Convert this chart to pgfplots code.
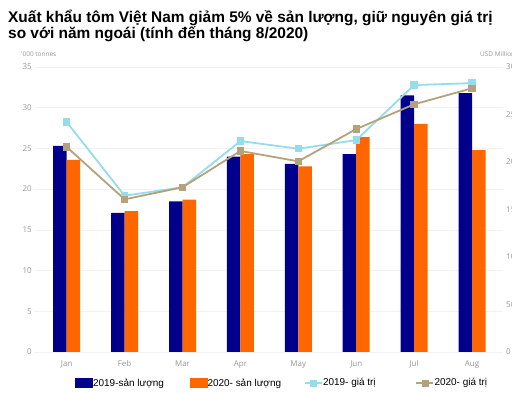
\documentclass[border=0pt]{standalone}
\usepackage{pgfplots}
\pgfplotsset{compat=1.18}
\usepackage{fontspec}
\setmainfont{Liberation Sans}
\newfontfamily\tickfont{Open Sans}
\definecolor{navyc}{RGB}{0,0,139}
\definecolor{orangec}{RGB}{255,102,0}
\definecolor{lightc}{RGB}{150,220,235}
\definecolor{tanc}{RGB}{180,162,125}
\definecolor{tickgray}{RGB}{150,150,150}
\begin{document}
\begin{tikzpicture}
\useasboundingbox (0,0) rectangle (512bp,393bp);
\node[anchor=base west, inner sep=0pt, font=\bfseries\fontsize{15.5}{16}\selectfont] at (8bp,370.5bp)
 {Xuất khẩu tôm Việt Nam giảm 5\% về sản lượng, giữ nguyên giá trị};
\node[anchor=base west, inner sep=0pt, font=\bfseries\fontsize{15.5}{16}\selectfont] at (8bp,354.5bp)
 {so với năm ngoái (tính đến tháng 8/2020)};
\node[anchor=base west, inner sep=0pt, font=\tickfont\fontsize{6.5}{7}\selectfont, text=tickgray] at (21bp,336bp) {'000 tonnes};
\node[anchor=base west, inner sep=0pt, font=\tickfont\fontsize{6.5}{7}\selectfont, text=tickgray] at (480bp,336bp) {USD Million};
\begin{axis}[
  at={(34bp,41bp)}, anchor=south west, scale only axis,
  width=469bp, height=285bp,
  xmin=-0.565, xmax=7.535, ymin=0, ymax=35,
  axis line style={draw=none}, tick style={draw=none},
  ytick={0,5,...,35}, xtick={0,...,7},
  xticklabels={Jan,Feb,Mar,Apr,May,Jun,Jul,Aug},
  ymajorgrids, grid style={black!5, line width=0.5bp},
  yticklabel style={anchor=east, inner sep=0pt, xshift=-2bp, font=\tickfont\fontsize{8}{9}\selectfont, text=tickgray},
  xticklabel style={anchor=north, inner sep=0pt, yshift=-4bp, font=\tickfont\fontsize{8}{9}\selectfont, text=tickgray},
  /pgf/number format/assume math mode=true,
  ybar=0pt, bar width=13.5bp,
]
\addplot[fill=navyc, draw=none] coordinates {(0,25.3) (1,17.1) (2,18.5) (3,24.0) (4,23.1) (5,24.3) (6,31.5) (7,31.8)};
\addplot[fill=orangec, draw=none] coordinates {(0,23.6) (1,17.3) (2,18.7) (3,24.3) (4,22.8) (5,26.4) (6,28.0) (7,24.8)};
\end{axis}
\begin{axis}[
  at={(34bp,41bp)}, anchor=south west, scale only axis,
  width=469bp, height=285bp,
  xmin=-0.565, xmax=7.535, ymin=0, ymax=300,
  axis line style={draw=none}, tick style={draw=none},
  xtick=\empty, ytick={0,50,...,300},
  axis y line*=right,
  yticklabel style={anchor=west, inner sep=0pt, xshift=3bp, font=\tickfont\fontsize{8}{9}\selectfont, text=tickgray},
  /pgf/number format/assume math mode=true,
  legend columns=4,
  legend style={at={(axis description cs:0.0875,-0.109)}, anchor=west, draw=none, fill=none, inner sep=0pt,
    font=\fontsize{10}{12}\selectfont, nodes={inner sep=0.5bp}},
  legend cell align=left,
]
\addlegendimage{legend image code/.code={\fill[navyc] (0bp,-4.5bp) rectangle (17bp,4.5bp);}}
\addlegendentry{\makebox[96bp][l]{2019-sản lượng}}
\addlegendimage{legend image code/.code={\fill[orangec] (0bp,-4.5bp) rectangle (17bp,4.5bp);}}
\addlegendentry{\makebox[96bp][l]{2020- sản lượng}}
\addlegendimage{legend image code/.code={\draw[lightc, line width=1.5bp] (0bp,0bp)--(17bp,0bp); \fill[lightc] (5.5bp,-3bp) rectangle (11.5bp,3bp);}}
\addlegendentry{\makebox[92bp][l]{2019- giá trị}}
\addlegendimage{legend image code/.code={\draw[tanc, line width=1.5bp] (0bp,0bp)--(17bp,0bp); \fill[tanc] (5.5bp,-3bp) rectangle (11.5bp,3bp);}}
\addlegendentry{2020- giá trị}
\addplot[lightc, line width=1.8bp, mark=square*, mark size=2.8bp, mark options={fill=lightc, draw=lightc}] coordinates {(0,242) (1,164.5) (2,173.4) (3,222) (4,214) (5,223) (6,281) (7,283)};
\addplot[tanc, line width=1.8bp, mark=square*, mark size=2.8bp, mark options={fill=tanc, draw=tanc}] coordinates {(0,215.8) (1,160.7) (2,173.4) (3,211.6) (4,200.7) (5,234.7) (6,260.7) (7,277.6)};
\end{axis}
\end{tikzpicture}
\end{document}
